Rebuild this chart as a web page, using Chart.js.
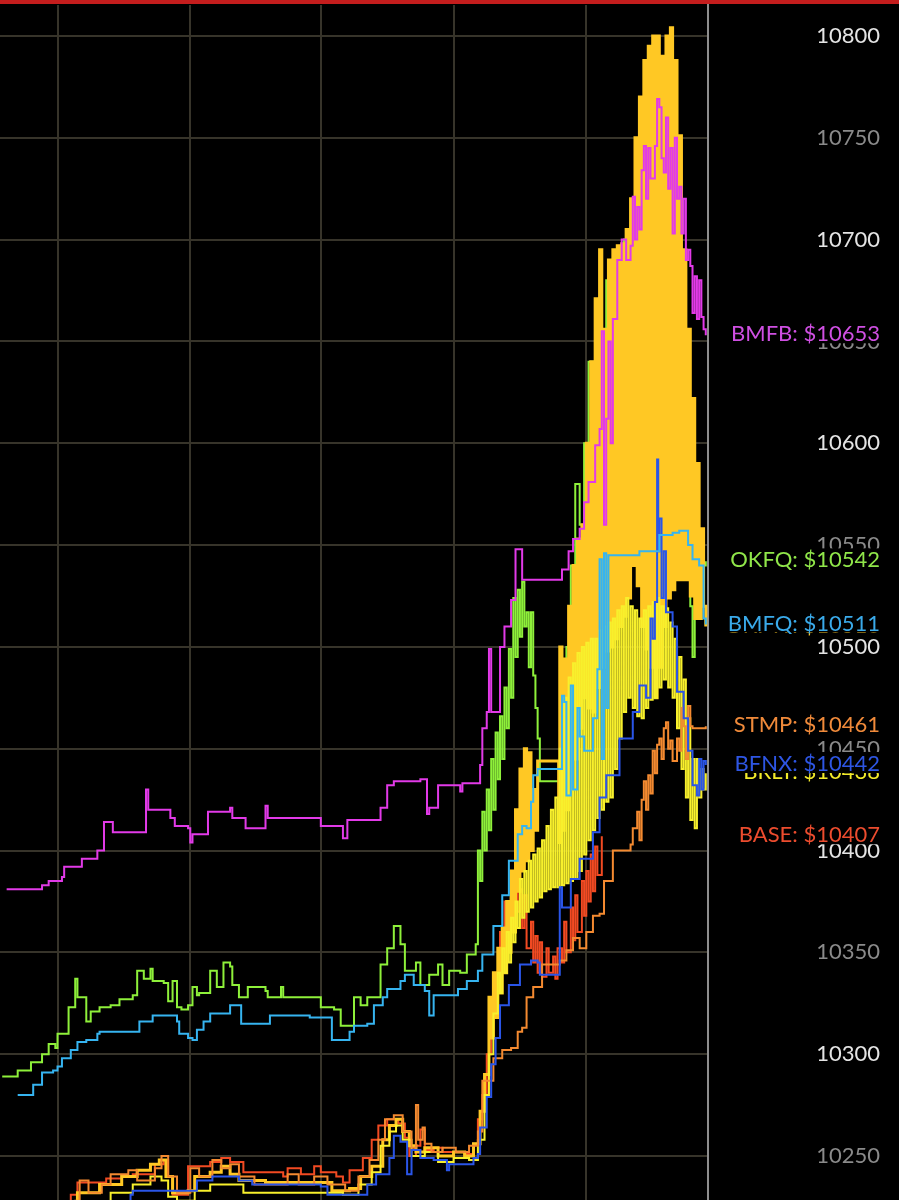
<!DOCTYPE html>
<html>
<head>
<meta charset="utf-8">
<script src="https://cdn.jsdelivr.net/npm/chart.js@4.4.1/dist/chart.umd.min.js"></script>
<style>
  html, body { margin: 0; padding: 0; background: #000; }
  canvas { display: block; }
</style>
</head>
<body>
<canvas id="myChart" width="899" height="1200"></canvas>
<script>
// data starts here (time in minutes, price in USD)
const timeTicks = [26, 86, 145, 205, 265];
const priceTicks = [10250, 10300, 10350, 10400, 10450, 10500, 10550, 10600, 10650, 10700, 10750, 10800];

const bmfb = [[3,10381],[19,10383],[22,10385],[28,10387],[29,10392],[37,10396],[44,10400],[47,10414],[51,10409],[66,10430],[67,10420],[76,10420],[77,10416],[79,10412],[85,10411],[86,10404],[87,10408],[94,10419],[104,10421],[105,10416],[111,10411],[120,10422],[121,10416],[144,10416],[145,10412],[154,10412],[155,10406],[157,10415],[166,10415],[172,10421],[175,10432],[178,10434],[188,10434],[190,10435],[193,10418],[194,10421],[198,10432],[208,10429],[209,10433],[216,10433],[217,10442],[218,10460],[220,10468],[221,10499],[222,10468],[225,10468],[226,10500],[228,10510],[231,10523],[233,10548],[235,10548],[236,10533],[253,10533],[254,10538],[257,10547],[259,10553],[262,10558],[264,10571],[266,10581],[269,10599],[271,10607],[272,10655],[273,10560],[274,10612],[275,10650],[276,10600],[277,10661],[279,10690],[281,10700],[283,10690],[285,10697],[286,10721],[287,10700],[288,10716],[289,10705],[290,10734],[291,10746],[292,10720],[293,10745],[294,10730],[296,10746],[297,10769],[298,10765],[299,10740],[300,10733],[301,10760],[302,10725],[303,10745],[304,10703],[305,10750],[306,10720],[307,10726],[308,10703],[309,10720],[310,10690],[311,10695],[312,10687],[313,10664],[314,10682],[315,10661],[316,10680],[317,10662],[318,10656],[319,10653]];

const okfq = [[1,10289],[8,10292],[14,10296],[19,10300],[22,10305],[25,10303],[26,10310],[31,10323],[34,10337],[35,10328],[39,10316],[41,10321],[45,10323],[50,10324],[54,10327],[60,10329],[62,10341],[65,10337],[68,10342],[69,10336],[74,10335],[76,10326],[78,10336],[80,10323],[82,10322],[85,10324],[87,10333],[89,10329],[90,10330],[95,10341],[98,10333],[101,10345],[104,10343],[105,10334],[108,10328],[112,10333],[120,10331],[121,10328],[127,10333],[128,10328],[140,10328],[145,10323],[151,10322],[154,10314],[157,10314],[160,10328],[163,10324],[166,10328],[172,10344],[175,10352],[178,10363],[181,10354],[183,10341],[188,10345],[190,10334],[194,10339],[198,10344],[200,10334],[203,10341],[208,10340],[211,10349],[215,10354],[216,10400],[217,10385],[218,10419],[219,10400],[220,10430],[221,10410],[222,10445],[223,10420],[224,10458],[225,10435],[226,10466],[227,10445],[228,10480],[229,10460],[230,10499],[231,10475],[232,10524],[233,10495],[234,10528],[235,10505],[236,10532],[237,10510],[238,10517],[239,10490],[240,10517],[241,10486],[242,10470],[243,10455],[244,10434],[253,10434],[254,10460],[256,10500],[258,10540],[260,10580],[262,10560],[264,10600],[266,10640],[268,10610],[270,10660],[272,10620],[274,10680],[276,10640],[278,10690],[280,10650],[282,10700],[284,10660],[286,10690],[288,10640],[290,10670],[292,10620],[294,10640],[296,10600],[298,10620],[300,10590],[302,10600],[304,10570],[306,10580],[308,10560],[310,10575],[312,10520],[313,10495],[314,10530],[316,10545],[318,10540],[319,10542]];

const bmfq = [[8,10280],[15,10285],[19,10291],[24,10292],[26,10294],[28,10298],[32,10302],[35,10306],[39,10307],[44,10310],[45,10311],[63,10316],[69,10319],[75,10319],[80,10316],[81,10310],[85,10308],[87,10307],[89,10312],[92,10316],[95,10320],[104,10324],[107,10324],[109,10315],[121,10315],[122,10319],[139,10319],[140,10318],[149,10318],[150,10307],[157,10307],[158,10311],[160,10314],[166,10315],[169,10324],[173,10328],[175,10332],[181,10336],[183,10339],[187,10334],[192,10331],[194,10319],[196,10329],[202,10329],[207,10332],[211,10336],[216,10341],[218,10349],[223,10363],[227,10378],[230,10395],[234,10408],[236,10412],[238,10411],[240,10424],[241,10437],[243,10440],[253,10440],[254,10476],[255,10473],[256,10427],[258,10481],[259,10430],[261,10470],[262,10456],[264,10449],[267,10449],[268,10465],[270,10489],[271,10543],[272,10445],[273,10546],[274,10470],[275,10545],[289,10547],[297,10547],[298,10555],[304,10556],[307,10557],[311,10550],[313,10543],[316,10540],[318,10514],[319,10511]];

const stmp = [[0,10225],[34,10228],[36,10238],[40,10232],[46,10236],[50,10241],[58,10243],[62,10238],[70,10244],[73,10250],[76,10240],[80,10232],[86,10244],[90,10240],[96,10248],[100,10244],[104,10246],[108,10240],[115,10236],[125,10236],[130,10241],[135,10236],[142,10240],[148,10236],[156,10233],[162,10240],[167,10248],[171,10258],[174,10268],[178,10270],[182,10262],[186,10254],[188,10275],[189,10258],[191,10264],[192,10256],[195,10252],[200,10254],[206,10252],[212,10255],[216,10262],[218,10287],[223,10298],[227,10302],[231,10303],[234,10311],[236,10313],[238,10328],[241,10333],[245,10344],[253,10346],[256,10351],[259,10357],[262,10352],[265,10360],[268,10368],[271,10369],[273,10385],[277,10400],[283,10400],[285,10403],[286,10411],[288,10419],[289,10405],[290,10425],[291,10434],[292,10420],[293,10437],[294,10428],[295,10449],[296,10438],[297,10452],[298,10455],[299,10445],[300,10460],[301,10463],[302,10450],[303,10454],[304,10444],[306,10455],[307,10449],[308,10470],[309,10461],[310,10445],[311,10471],[312,10461],[313,10460],[319,10461]];

const bfnx = [[0,10222],[58,10222],[59,10231],[60,10233],[87,10233],[89,10238],[96,10240],[108,10238],[114,10236],[130,10236],[145,10235],[148,10231],[160,10231],[166,10236],[170,10241],[176,10249],[178,10260],[181,10257],[184,10241],[186,10253],[190,10249],[196,10248],[202,10243],[203,10246],[208,10246],[214,10249],[216,10251],[217,10264],[220,10279],[222,10295],[224,10308],[226,10324],[230,10334],[235,10344],[240,10346],[243,10345],[244,10339],[252,10339],[253,10382],[254,10372],[258,10386],[262,10396],[268,10409],[271,10426],[274,10437],[280,10455],[286,10468],[289,10481],[292,10475],[294,10514],[295,10504],[296,10522],[297,10592],[297.5,10547],[298,10563],[299,10524],[300,10547],[301,10517],[304,10510],[306,10478],[309,10465],[311,10449],[313,10432],[315,10427],[316,10445],[317,10430],[318,10444],[319,10442]];

const base = [[0,10224],[32,10231],[35,10237],[48,10239],[55,10240],[60,10241],[70,10246],[74,10248],[76,10240],[78,10231],[85,10245],[95,10247],[100,10249],[104,10247],[110,10242],[128,10240],[130,10244],[136,10241],[142,10245],[145,10242],[152,10240],[155,10237],[158,10243],[164,10249],[168,10258],[171,10265],[175,10268],[180,10266],[183,10259],[185,10250],[188,10255],[190,10263],[192,10253],[196,10254],[200,10252],[210,10251],[214,10256],[216,10268],[218,10280],[220,10300],[222,10320],[225,10341],[226,10360],[228,10375],[229,10362],[231,10384],[232,10368],[233,10383],[234,10370],[235,10381],[236,10362],[237,10378],[238,10352],[240,10365],[241,10345],[242,10358],[243,10340],[244,10355],[245,10338],[247,10352],[248,10340],[250,10348],[251,10337],[252,10352],[254,10345],[255,10365],[256,10350],[258,10372],[259,10356],[260,10378],[261,10360],[263,10385],[264,10368],[265,10390],[266,10375],[267,10398],[268,10380],[269,10402],[270,10388],[272,10407]];

const brlt = [[0,10220],[40,10226],[50,10232],[60,10236],[68,10240],[73,10238],[76,10230],[80,10228],[88,10233],[95,10236],[105,10236],[110,10232],[145,10232],[155,10231],[162,10236],[168,10242],[172,10255],[176,10262],[179,10265],[182,10258],[186,10250],[192,10252],[198,10247],[205,10249],[212,10248],[216,10258],[219,10280],[221,10300],[223,10320],[225,10340],[226,10330],[227,10352],[228,10340],[229,10360],[230,10345],[231,10367],[232,10355],[233,10375],[234,10362],[235,10386],[236,10367],[237,10390],[238,10370],[239,10395],[240,10372],[241,10398],[242,10375],[243,10401],[244,10377],[245,10405],[246,10380],[247,10412],[248,10381],[249,10420],[250,10382],[251,10426],[252,10382],[253,10450],[254,10383],[255,10475],[256,10384],[257,10485],[258,10385],[259,10492],[260,10386],[261,10497],[262,10390],[263,10500],[264,10398],[265,10502],[266,10405],[267,10504],[268,10410],[269,10504],[270,10416],[271,10508],[272,10420],[273,10510],[274,10424],[275,10512],[276,10426],[277,10514],[278,10440],[279,10518],[280,10455],[281,10520],[282,10468],[283,10524],[284,10475],[285,10520],[286,10470],[287,10518],[288,10466],[289,10514],[290,10465],[291,10518],[292,10470],[293,10520],[294,10474],[295,10522],[296,10475],[297,10524],[298,10480],[299,10520],[300,10484],[301,10519],[302,10480],[303,10512],[304,10475],[305,10504],[306,10460],[307,10495],[308,10440],[309,10484],[310,10426],[311,10465],[312,10415],[313,10445],[314,10411],[315,10445],[316,10426],[317,10440],[318,10430],[319,10438]];

const okfw = [[0,10222],[33,10226],[35,10232],[45,10236],[55,10240],[62,10243],[68,10246],[72,10248],[75,10240],[78,10232],[85,10233],[88,10240],[95,10242],[100,10245],[104,10241],[108,10238],[120,10237],[145,10237],[150,10233],[158,10234],[163,10240],[168,10245],[173,10258],[176,10265],[179,10268],[182,10262],[185,10255],[188,10252],[192,10254],[198,10250],[205,10252],[210,10250],[214,10256],[217,10272],[219,10290],[221,10328],[222,10308],[223,10340],[224,10318],[225,10352],[226,10330],[227,10362],[228,10340],[229,10375],[230,10350],[231,10390],[232,10360],[233,10420],[234,10380],[235,10440],[236,10390],[237,10450],[238,10395],[239,10448],[240,10400],[241,10430],[242,10410],[243,10444],[252,10444],[252.5,10404],[253,10500],[254,10410],[255,10494],[256,10420],[257,10520],[258,10430],[259,10540],[260,10445],[261,10553],[262,10460],[263,10560],[264,10475],[265,10600],[266,10470],[267,10640],[268,10468],[269,10671],[270,10480],[271,10695],[272,10490],[273,10656],[274,10498],[275,10690],[276,10500],[277,10695],[278,10504],[279,10697],[280,10510],[281,10698],[282,10515],[283,10705],[284,10524],[285,10720],[286,10540],[287,10750],[288,10530],[289,10770],[290,10510],[291,10788],[292,10499],[293,10795],[294,10490],[295,10800],[296,10475],[297,10800],[298,10490],[299,10790],[300,10510],[301,10800],[302,10524],[303,10804],[304,10528],[305,10788],[306,10533],[307,10751],[308,10533],[309,10695],[310,10533],[311,10656],[312,10525],[313,10622],[314,10514],[315,10590],[316,10514],[317,10558],[318,10520],[319,10510]];
// data ends here

// series list: first one drawn on top
const series = [
  { name: 'BMFB', data: bmfb, color: '#e23ae8', text: '#cf4fe2', width: 2 },
  { name: 'BMFQ', data: bmfq, color: '#36b4f0', text: '#3aaaea', width: 2 },
  { name: 'BFNX', data: bfnx, color: '#2a55e8', text: '#2e56e4', width: 2 },
  { name: 'STMP', data: stmp, color: '#f48a30', text: '#f08a3a', width: 2 },
  { name: 'BRLT', data: brlt, color: '#f8f02c', text: '#f2ea2a', width: 2 },
  { name: 'OKFW', data: okfw, color: '#ffc824', text: '#f8c628', width: 3 },
  { name: 'OKFQ', data: okfq, color: '#8ef03a', text: '#90e64a', width: 2 },
  { name: 'BASE', data: base, color: '#f24a22', text: '#ec4c2e', width: 2 }
];
// price labels: hidden ones first, the rest paint over them
const labelOrder = ['OKFW', 'BRLT', 'BMFB', 'OKFQ', 'BMFQ', 'STMP', 'BFNX', 'BASE'];

// red bar and black background
const backdrop = {
  id: 'backdrop',
  beforeDraw(chart) {
    const c = chart.ctx;
    c.save();
    c.fillStyle = '#000';
    c.fillRect(0, 0, chart.width, chart.height);
    c.fillStyle = '#c41d1d';
    c.fillRect(0, 0, chart.width, 4);
    c.restore();
  }
};

// last price tags on the right
const priceTags = {
  id: 'priceTags',
  afterDatasetsDraw(chart) {
    const c = chart.ctx;
    const yScale = chart.scales.y;
    c.save();
    c.font = '22px Lato';
    c.textAlign = 'right';
    c.textBaseline = 'middle';
    labelOrder.forEach(name => {
      const s = series.find(item => item.name === name);
      const last = s.data[s.data.length - 1][1];
      const y = yScale.getPixelForValue(last) - 1;
      c.fillStyle = '#000';
      c.fillRect(722, y - 12, 177, 21);
      c.fillStyle = s.text;
      c.fillText(s.name + ': $' + last, 880, y);
    });
    c.restore();
  }
};

const gridColor = '#37342a';

var ctx = document.getElementById('myChart').getContext('2d');
var chart = new Chart(ctx, {
    type: 'line',
    data: {
        datasets: series.map((s, i) => ({
            label: s.name,
            data: s.data.map(p => ({ x: p[0], y: p[1] })),
            borderColor: s.color,
            borderWidth: s.width,
            stepped: true,
            pointRadius: 0,
            fill: false,
            order: i
        }))
    },
    options: {
        responsive: false,
        animation: false,
        devicePixelRatio: 1,
        layout: { padding: { top: 5, right: 19, left: 0, bottom: 0 } },
        plugins: { legend: { display: false }, tooltip: { enabled: false } },
        scales: {
            x: {
                type: 'linear',
                min: 0,
                max: 320,
                afterBuildTicks: axis => { axis.ticks = timeTicks.map(v => ({ value: v })); },
                afterFit: axis => { axis.height = 0; axis.paddingLeft = 0; axis.paddingRight = 0; },
                ticks: { display: false },
                grid: { color: gridColor, lineWidth: 2, drawTicks: false },
                border: { display: false }
            },
            y: {
                position: 'right',
                min: 10228.4,
                max: 10815.2,
                afterBuildTicks: axis => { axis.ticks = priceTicks.map(v => ({ value: v })); },
                afterFit: axis => { axis.width = 172; axis.paddingTop = 0; axis.paddingBottom = 0; },
                ticks: {
                    callback: v => String(v),
                    color: c => (c.tick.value % 100 === 0 ? '#e4e4e4' : '#8a8a8a'),
                    font: { family: 'Lato', size: 22 },
                    crossAlign: 'far',
                    padding: 0
                },
                grid: { color: gridColor, lineWidth: 2, drawTicks: false },
                border: { display: true, color: '#8e8e8e', width: 2 }
            }
        }
    },
    plugins: [backdrop, priceTags]
});
</script>
</body>
</html>
